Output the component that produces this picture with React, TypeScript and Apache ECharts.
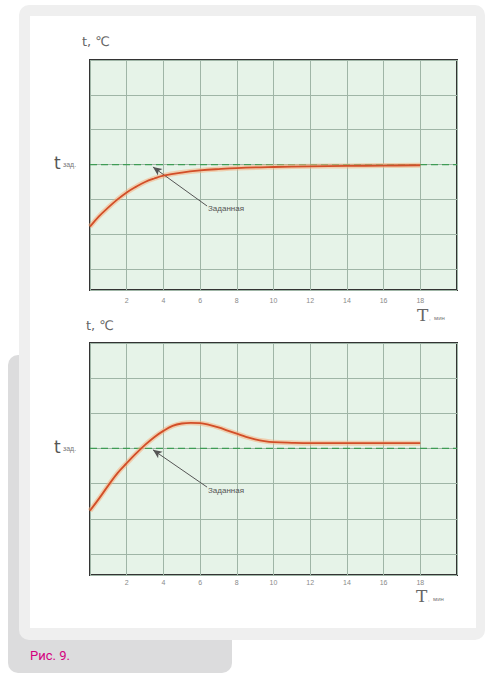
import React, { useEffect, useRef } from "react";
import * as echarts from "echarts";

// time, min
const timeTop = [0, 0.5, 1, 1.5, 2, 2.5, 3, 3.5, 4, 5, 6, 7, 8, 10, 12, 14, 16, 18];
const tempTop = [1.82, 2.12, 2.37, 2.6, 2.8, 2.96, 3.1, 3.2, 3.28, 3.37, 3.43, 3.47, 3.5, 3.53, 3.55, 3.56, 3.57, 3.58];
const timeBottom = [0, 0.5, 1, 1.5, 2, 2.5, 3, 3.5, 4, 4.5, 5, 5.5, 6, 6.5, 7, 7.5, 8, 8.5, 9, 9.5, 10, 11, 12, 14, 16, 18];
const tempBottom = [1.83, 2.18, 2.55, 2.9, 3.18, 3.45, 3.7, 3.92, 4.1, 4.24, 4.31, 4.33, 4.32, 4.27, 4.2, 4.11, 4.02, 3.93, 3.86, 3.81, 3.78, 3.76, 3.75, 3.75, 3.75, 3.75];
const setpoint = 3.6;
const xTickLabels = ["2", "4", "6", "8", "10", "12", "14", "16", "18"];
const arrowTop = [[6.38, 2.41], [3.43, 3.53]];
const arrowBottom = [[6.38, 2.5], [3.43, 3.56]];

const GRID_BG = "#e6f3e8";
const GRID_LINE = "#9fb5a6";
const CURVE = "#d24e28";
const HALO = "rgba(245,175,125,0.55)";
const DASH = "#3f9c55";

function xAxis(gridIndex: number, margin: number) {
  return {
    type: "value",
    gridIndex,
    min: 0,
    max: 20,
    interval: 2,
    axisLine: { show: false },
    axisTick: { show: false },
    splitLine: { show: true, lineStyle: { color: GRID_LINE, width: 1 } },
    axisLabel: {
      color: "#8a8a8a",
      fontSize: 7,
      margin,
      fontFamily: "Liberation Sans",
      formatter: (v: number) => (xTickLabels.includes(String(v)) ? String(v) : ""),
    },
  };
}

function yAxes(gridIndex: number) {
  return [
    {
      type: "value",
      gridIndex,
      inverse: true,
      min: 0,
      max: 6.6,
      interval: 1,
      axisLine: { show: false },
      axisTick: { show: false },
      axisLabel: { show: false },
      splitLine: { show: true, lineStyle: { color: GRID_LINE, width: 1 } },
    },
    {
      type: "value",
      gridIndex,
      min: 0,
      max: 6.6,
      show: false,
      splitLine: { show: false },
    },
  ];
}

function curveSeries(xi: number, yi: number, xs: number[], ys: number[], arrow: number[][]) {
  const data = xs.map((x, i) => [x, ys[i]]);
  return [
    {
      type: "line",
      xAxisIndex: xi,
      yAxisIndex: yi,
      data: [[0, setpoint], [20, setpoint]],
      symbol: "none",
      lineStyle: { color: DASH, width: 1.2, type: [7, 4] },
      z: 3,
      markLine: {
        silent: true,
        symbol: ["none", "arrow"],
        symbolSize: [6, 9],
        label: { show: false },
        lineStyle: { color: "#555", width: 1, type: "solid" },
        data: [[{ coord: arrow[0] }, { coord: arrow[1] }]],
      },
    },
    {
      type: "line",
      xAxisIndex: xi,
      yAxisIndex: yi,
      data,
      smooth: 0.4,
      symbol: "none",
      lineStyle: { color: HALO, width: 5 },
      z: 4,
    },
    {
      type: "line",
      xAxisIndex: xi,
      yAxisIndex: yi,
      data,
      smooth: 0.4,
      symbol: "none",
      lineStyle: { color: CURVE, width: 1.8 },
      z: 5,
    },
  ];
}

function tLabel(x: number, y: number) {
  return [
    { type: "text", left: x, top: y - 11, style: { text: "t", fontSize: 17, fill: "#555", fontFamily: "DejaVu Sans" }, z: 100 },
    { type: "text", left: x + 9, top: y - 4, style: { text: "зад.", fontSize: 7, fill: "#777", fontFamily: "Liberation Sans" }, z: 100 },
  ];
}

function TLabel(x: number, y: number) {
  return [
    { type: "text", left: x, top: y, style: { text: "T", fontSize: 17, fill: "#666", fontFamily: "DejaVu Serif" }, z: 100 },
    { type: "text", left: x + 12, top: y + 9, style: { text: ",  мин", fontSize: 6, fill: "#777", fontFamily: "Liberation Sans" }, z: 100 },
  ];
}

function axisTitle(x: number, y: number) {
  return { type: "text", left: x, top: y, style: { text: "t, ℃", fontSize: 13, fill: "#666", fontFamily: "DejaVu Sans" }, z: 100 };
}

export default function App() {
  const ref = useRef<HTMLDivElement>(null);
  useEffect(() => {
    if (!ref.current) return;
    const chart = echarts.init(ref.current, undefined, { renderer: "svg" });
    chart.setOption({
      animation: false,
      backgroundColor: "#ffffff",
      grid: [
        { left: 90, top: 60, width: 367, height: 230, show: true, backgroundColor: GRID_BG, borderColor: "#333", borderWidth: 2 },
        { left: 90, top: 343, width: 367, height: 232, show: true, backgroundColor: GRID_BG, borderColor: "#333", borderWidth: 2 },
      ],
      xAxis: [xAxis(0, 7), xAxis(1, 4)],
      yAxis: [...yAxes(0), ...yAxes(1)],
      series: [
        ...curveSeries(0, 1, timeTop, tempTop, arrowTop),
        ...curveSeries(1, 3, timeBottom, tempBottom, arrowBottom),
      ],
      graphic: [
        { type: "rect", shape: { x: 8, y: 355, width: 224, height: 318, r: 10 }, style: { fill: "#dcdcdd" }, z: -30, silent: true },
        { type: "rect", shape: { x: 19, y: 5, width: 466, height: 635, r: 10 }, style: { fill: "#efefef" }, z: -20, silent: true },
        { type: "rect", shape: { x: 30, y: 16, width: 446, height: 612 }, style: { fill: "#ffffff" }, z: -10, silent: true },
        axisTitle(82, 35),
        axisTitle(86, 319),
        ...tLabel(54, 165),
        ...tLabel(54, 449),
        ...TLabel(417, 306),
        ...TLabel(416, 587),
        { type: "text", left: 208, top: 204, style: { text: "Заданная", fontSize: 8, fill: "#555", fontFamily: "Liberation Sans" }, z: 100 },
        { type: "text", left: 208, top: 486, style: { text: "Заданная", fontSize: 8, fill: "#555", fontFamily: "Liberation Sans" }, z: 100 },
        { type: "text", left: 30, top: 649, style: { text: "Рис. 9.", fontSize: 13, fill: "#d4007f", fontFamily: "Roboto" }, z: 100 },
      ],
    });
    return () => chart.dispose();
  }, []);
  return <div ref={ref} style={{ position: "fixed", left: 0, top: 0, width: 494, height: 684 }} />;
}
